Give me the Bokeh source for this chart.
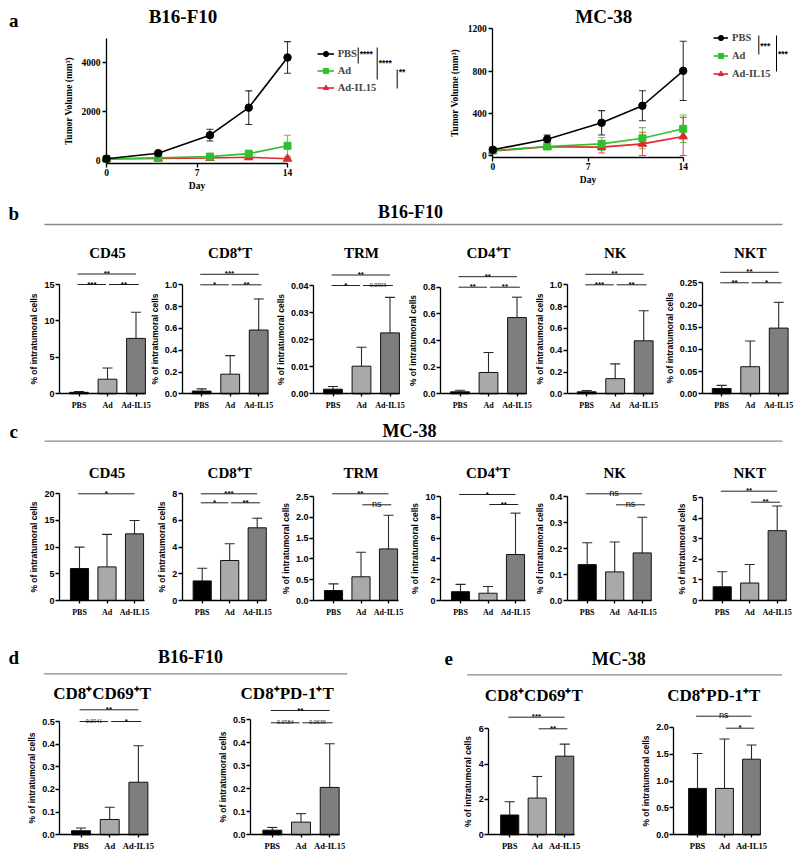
import numpy as np
from bokeh.plotting import figure
from bokeh.layouts import column, row
from bokeh.models import (Range1d, FixedTicker, Whisker, TeeHead, ColumnDataSource,
                          Legend, LegendItem, PrintfTickFormatter)
from bokeh.core.properties import value
from bokeh.embed import file_html
from bokeh.resources import INLINE

SERIF = "Liberation Serif"
SANS = "Liberation Sans"

# ---------------- data ----------------
groups = ["PBS", "Ad", "Ad-IL15"]
bar_colors = ["#000000", "#a9a9a9", "#7e7e7e"]
line_colors = ["#000000", "#2fbf2f", "#e3262b"]

days = [0, 4, 8, 11, 14]
b16_pbs_mean = [50, 280, 1020, 2150, 4210]
b16_pbs_sd = [20, 40, 240, 690, 650]
b16_ad_mean = [45, 90, 140, 260, 585]
b16_ad_sd = [10, 20, 40, 80, 430]
b16_il15_mean = [40, 60, 80, 110, 50]
b16_il15_sd = [10, 15, 25, 40, 30]
b16_sig = [("PBS", "Ad", "****"), ("PBS", "Ad-IL15", "****"), ("Ad", "Ad-IL15", "**")]

mc_pbs_mean = [57, 157, 312, 473, 803]
mc_pbs_sd = [10, 38, 115, 142, 280]
mc_ad_mean = [50, 88, 113, 166, 255]
mc_ad_sd = [8, 20, 60, 100, 130]
mc_il15_mean = [45, 85, 82, 113, 183]
mc_il15_sd = [8, 20, 55, 110, 180]
mc_sig = [("PBS", "Ad", "***"), ("PBS", "Ad-IL15", "***")]

# panel b : B16-F10 infiltration (% of intratumoral cells)
b_titles = ["CD45", "CD8⁺T", "TRM", "CD4⁺T", "NK", "NKT"]
b_means = [[0.2, 2.0, 7.6], [0.025, 0.18, 0.585], [0.0017, 0.0102, 0.0225],
           [0.015, 0.16, 0.572], [0.018, 0.139, 0.486], [0.012, 0.061, 0.148]]
b_sds = [[0.1, 1.55, 3.6], [0.02, 0.17, 0.285], [0.001, 0.007, 0.0131],
         [0.012, 0.15, 0.153], [0.012, 0.136, 0.276], [0.007, 0.058, 0.058]]
b_sigs = [[("PBS", "Ad", "***"), ("Ad", "Ad-IL15", "**"), ("PBS", "Ad-IL15", "**")],
          [("PBS", "Ad", "*"), ("Ad", "Ad-IL15", "**"), ("PBS", "Ad-IL15", "***")],
          [("PBS", "Ad", "*"), ("Ad", "Ad-IL15", "0.0593"), ("PBS", "Ad-IL15", "**")],
          [("PBS", "Ad", "**"), ("Ad", "Ad-IL15", "**"), ("PBS", "Ad-IL15", "**")],
          [("PBS", "Ad", "***"), ("Ad", "Ad-IL15", "**"), ("PBS", "Ad-IL15", "**")],
          [("PBS", "Ad", "**"), ("Ad", "Ad-IL15", "*"), ("PBS", "Ad-IL15", "**")]]
b_axis_max = [15, 1.0, 0.04, 0.8, 1.0, 0.25]
b_axis_step = [5, 0.2, 0.01, 0.2, 0.2, 0.05]

# panel c : MC-38 infiltration
c_titles = ["CD45", "CD8⁺T", "TRM", "CD4⁺T", "NK", "NKT"]
c_means = [[6.0, 6.3, 12.5], [1.47, 3.0, 5.45], [0.24, 0.57, 1.24],
           [0.85, 0.7, 4.42], [0.138, 0.11, 0.183], [0.67, 0.85, 3.4]]
c_sds = [[4.0, 6.1, 2.5], [0.95, 1.25, 0.72], [0.16, 0.59, 0.81],
         [0.7, 0.65, 3.98], [0.084, 0.115, 0.137], [0.73, 0.9, 1.2]]
c_sigs = [[("PBS", "Ad-IL15", "*")],
          [("PBS", "Ad-IL15", "***"), ("PBS", "Ad", "*"), ("Ad", "Ad-IL15", "**")],
          [("PBS", "Ad-IL15", "**"), ("Ad", "Ad-IL15", "ns")],
          [("PBS", "Ad-IL15", "*"), ("Ad", "Ad-IL15", "**")],
          [("PBS", "Ad-IL15", "ns"), ("Ad", "Ad-IL15", "ns")],
          [("PBS", "Ad-IL15", "**"), ("Ad", "Ad-IL15", "**")]]
c_axis_max = [20, 8, 2.5, 10, 0.4, 5]
c_axis_step = [5, 2, 0.5, 2, 0.1, 1]

# panels d / e : CD8 subsets
de_titles = ["CD8⁺CD69⁺T", "CD8⁺PD-1⁺T", "CD8⁺CD69⁺T", "CD8⁺PD-1⁺T"]
de_means = [[0.018, 0.0675, 0.232], [0.02, 0.055, 0.206],
            [1.12, 2.08, 4.45], [0.862, 0.862, 1.405]]
de_sds = [[0.012, 0.054, 0.161], [0.012, 0.037, 0.19],
          [0.75, 1.22, 0.68], [0.648, 0.918, 0.265]]
de_sigs = [[("PBS", "Ad-IL15", "**"), ("PBS", "Ad", "0.0541"), ("Ad", "Ad-IL15", "*")],
           [("PBS", "Ad-IL15", "**"), ("PBS", "Ad", "0.0584"), ("Ad", "Ad-IL15", "0.0639")],
           [("PBS", "Ad-IL15", "***"), ("Ad", "Ad-IL15", "**")],
           [("PBS", "Ad-IL15", "ns"), ("Ad", "Ad-IL15", "*")]]
de_axis_max = [0.5, 0.5, 6, 2.0]
de_axis_step = [0.1, 0.1, 2, 0.5]

YLABEL = "% of intratumoral cells"


# ---------------- helpers ----------------
def base_fig(w, h, xr, yr):
    p = figure(width=w, height=h, x_range=xr, y_range=yr, output_backend="svg",
               toolbar_location=None, min_border=0, min_border_left=0, min_border_right=0,
               min_border_top=0, min_border_bottom=0)
    p.outline_line_color = None
    p.grid.visible = False
    return p


def style_axis(ax, font, size, tick_out=4, standoff=2):
    ax.axis_line_color = "black"
    ax.axis_line_width = 1.3
    ax.major_tick_line_color = "black"
    ax.major_tick_line_width = 1.3
    ax.major_tick_in = 0
    ax.major_tick_out = tick_out
    ax.minor_tick_line_color = None
    ax.major_label_text_font = font
    ax.major_label_text_font_style = "bold"
    ax.major_label_text_font_size = size
    ax.major_label_text_color = "black"
    ax.major_label_standoff = standoff


def style_axis_label(ax, text, font, size, standoff):
    ax.axis_label = text
    ax.axis_label_text_font = font
    ax.axis_label_text_font_style = "bold"
    ax.axis_label_text_font_size = size
    ax.axis_label_text_color = "black"
    ax.axis_label_standoff = standoff


def put_text(p, x, y, t, font, size, style="bold", align="center", baseline="middle"):
    p.text(x=[x], y=[y], text=[t], text_font=value(font), text_font_style=style,
           text_font_size=size, text_align=align, text_baseline=baseline, text_color="black")


def is_stars(t):
    return set(t) == {"*"}


def bar_chart(fx, fw, fy, fh, axis_px, zero_px, top_px, top_val, step, fmt, unit, off,
              means, sds, title, title_x, title_y, title_size, sigs, sig_px, xlab_standoff, xlab_size):
    ppv = (zero_px - top_px) / top_val
    bar1 = axis_px + off
    X = lambda px: 1 + (px - bar1) / unit
    Y = lambda py: (zero_px - py) / ppv
    p = base_fig(fw, fh, Range1d(X(fx), X(fx + fw)), Range1d(Y(fy + fh), Y(fy)))

    src = ColumnDataSource(dict(x=[1, 2, 3], top=means,
                                up=[m + s for m, s in zip(means, sds)],
                                color=bar_colors, name=groups))
    p.vbar(x="x", top="top", bottom=0, width=0.66, fill_color="color",
           line_color="#111111", line_width=1, source=src)
    p.add_layout(Whisker(base="x", upper="up", lower="top", source=src,
                         line_color="#2a2a2a", line_width=1.1,
                         upper_head=TeeHead(size=10, line_color="#2a2a2a", line_width=1.1),
                         lower_head=None))

    put_text(p, X(title_x), Y(title_y), title, SERIF, title_size)

    for (g1, g2, lab), opx in zip(sigs, sig_px):
        i = groups.index(g1) + 1
        j = groups.index(g2) + 1
        if i == 2:
            x0, x1 = 2.05, 3.1
        elif j == 2:
            x0, x1 = 0.95, 1.95
        else:
            x0, x1 = 0.95, 3.0
        ly = Y(top_px - opx)
        p.segment(x0=[x0], y0=[ly], x1=[x1], y1=[ly], line_color="#222222", line_width=1)
        xm = (x0 + x1) / 2
        if is_stars(lab):
            put_text(p, xm, ly + 0.5 / ppv, lab, SANS, "8px")
        elif lab == "ns":
            put_text(p, xm, ly + 1 / ppv, lab, SANS, "9px", style="normal", baseline="alphabetic")
        else:
            put_text(p, xm, ly + 1 / ppv, lab, SERIF, "6px", style="normal", baseline="alphabetic")

    ticks = [round(v, 6) for v in np.arange(0, top_val + step / 2, step)]
    yax = p.yaxis[0]
    style_axis(yax, SANS, "9px", tick_out=4, standoff=1)
    yax.fixed_location = X(axis_px)
    yax.bounds = (0, top_val)
    yax.ticker = FixedTicker(ticks=ticks)
    yax.formatter = PrintfTickFormatter(format=fmt)
    style_axis_label(yax, YLABEL, SANS, "8.5px", 2)

    xax = p.xaxis[0]
    style_axis(xax, SERIF, xlab_size, tick_out=3, standoff=xlab_standoff)
    xax.fixed_location = 0
    xax.bounds = (X(axis_px), 3.35)
    xax.ticker = FixedTicker(ticks=[1, 2, 3])
    xax.major_label_overrides = {1: groups[0], 2: groups[1], 3: groups[2]}
    return p


def header_fig(y0, y1, texts, lines):
    h = int(round(y1 - y0))
    p = base_fig(800, h, Range1d(0, 800), Range1d(y1, y0))
    p.xaxis.visible = False
    p.yaxis.visible = False
    for (x, y, t, size) in texts:
        put_text(p, x, y, t, SERIF, size)
    for (xa, xb, y) in lines:
        p.segment(x0=[xa], y0=[y], x1=[xb], y1=[y], line_color="#8a8a8a", line_width=1.3)
    return p


def growth_chart(fx, fw, fh, axis_px, zero_px, xaxis_px, ppd, ppv, ymax, yticks, means, sds,
                 title, title_x, legend_xy, legend_gw, legend_step, brackets, sig, letter):
    X = lambda px: (px - axis_px) / ppd
    Y = lambda py: (zero_px - py) / ppv
    p = base_fig(fw, fh, Range1d(X(fx), X(fx + fw)), Range1d(Y(fh), Y(0)))

    markers = ["circle", "square", "triangle"]
    msizes = [7.5, 7, 8.5]
    items = []
    for k in range(3):
        c = line_colors[k]
        src = ColumnDataSource(dict(x=days, y=means[k],
                                    lo=[m - s for m, s in zip(means[k], sds[k])],
                                    hi=[m + s for m, s in zip(means[k], sds[k])]))
        p.add_layout(Whisker(base="x", upper="hi", lower="lo", source=src, line_color=c,
                             line_width=1.1, line_alpha=0.8,
                             upper_head=TeeHead(size=7, line_color=c, line_width=1.1, line_alpha=0.8),
                             lower_head=TeeHead(size=7, line_color=c, line_width=1.1, line_alpha=0.8)))
        ln = p.line("x", "y", source=src, line_color=c, line_width=1.6)
        sc = p.scatter("x", "y", source=src, marker=markers[k], size=msizes[k],
                       fill_color=c, line_color=c)
        items.append(LegendItem(label=groups[k], renderers=[ln, sc]))
    p.renderers = p.renderers[::-1]

    lx, ltop = legend_xy
    lh = 13
    sp = legend_step - lh
    lbot = ltop + 3 * lh + 2 * sp
    leg = Legend(items=items, location=(lx - fx, fh - lbot), padding=0, margin=0,
                 glyph_width=legend_gw, glyph_height=lh, label_height=lh, spacing=sp,
                 label_standoff=4, border_line_color=None, background_fill_alpha=0,
                 label_text_font=SERIF, label_text_font_style="bold",
                 label_text_font_size="10.5px")
    p.add_layout(leg)

    for (bx, by0, by1, ty), (g1, g2, lab) in zip(brackets, sig):
        p.segment(x0=[X(bx)], y0=[Y(by0)], x1=[X(bx)], y1=[Y(by1)], line_color="black", line_width=1)
        put_text(p, X(bx + 1.5), Y(ty), lab, SANS, "8.5px", align="left")

    put_text(p, X(title_x), Y(16), title, SERIF, "19px")
    if letter:
        put_text(p, X(13.3), Y(20), letter, SERIF, "19px")

    yax = p.yaxis[0]
    style_axis(yax, SERIF, "9.5px", tick_out=4, standoff=2)
    yax.fixed_location = 0
    yax.bounds = (Y(xaxis_px), ymax)
    yax.ticker = FixedTicker(ticks=yticks)
    style_axis_label(yax, "Tumor Volume (mm³)", SERIF, "9.5px", 5)

    xax = p.xaxis[0]
    style_axis(xax, SERIF, "9.5px", tick_out=4, standoff=1)
    xax.fixed_location = Y(xaxis_px)
    xax.bounds = (0, 14)
    xax.ticker = FixedTicker(ticks=[0, 7, 14])
    style_axis_label(xax, "Day", SERIF, "9.5px", 2)
    return p


# ---------------- panel a ----------------
a1 = growth_chart(0, 420, 195, 106, 159.5, 163, 12.93, 48.7 / 2000, 5000, [0, 2000, 4000],
                  [b16_pbs_mean, b16_ad_mean, b16_il15_mean],
                  [b16_pbs_sd, b16_ad_sd, b16_il15_sd],
                  "B16-F10", 182.5, (316.7, 46.8), 17, 17,
                  [(357.7, 47, 63, 53.3), (376.7, 47, 79, 62.3), (396.7, 69, 88, 71)],
                  b16_sig, "a")
a2 = growth_chart(420, 380, 195, 492.3, 155.3, 157, 13.6, 42.33 / 400, 1200, [0, 400, 800, 1200],
                  [mc_pbs_mean, mc_ad_mean, mc_il15_mean],
                  [mc_pbs_sd, mc_ad_sd, mc_il15_sd],
                  "MC-38", 603.3, (713, 30.8), 15, 18,
                  [(758.3, 35, 54, 45), (776, 35, 71, 53.3)],
                  mc_sig, None)

# ---------------- headers ----------------
hdr_b = header_fig(195, 235, [(13.3, 213, "b", "19px"), (410, 211, "B16-F10", "18px")],
                   [(44, 782, 224)])
hdr_c = header_fig(415, 448, [(13.3, 431, "c", "19px"), (409, 430, "MC-38", "18px")],
                   [(44, 782, 440.7)])
hdr_de = header_fig(630, 676, [(13.3, 656.7, "d", "19px"), (190, 656, "B16-F10", "18px"),
                               (448.3, 658, "e", "19px"), (618.3, 658, "MC-38", "18px")],
                    [(43.3, 346.7, 673.3), (466.7, 781.7, 674.3)])

# ---------------- panel b / c ----------------
bx = [0, 151, 275, 408, 535, 662]
bw = [151, 124, 133, 127, 127, 138]
baxis = [59, 181.7, 313, 440, 566.7, 701.7]

fmt_b = ["%d", "%.1f", "%.2f", "%.1f", "%.1f", "%.2f"]
btop = [284, 284.3, 285, 286.7, 284.3, 282.3]
b_charts = []
for k in range(6):
    b_charts.append(bar_chart(bx[k], bw[k], 235, 180, baxis[k], 393.3, btop[k], b_axis_max[k],
                              b_axis_step[k], fmt_b[k], 28.5, 19.5, b_means[k], b_sds[k], b_titles[k],
                              baxis[k] + 19.5 + 28.5, 252, "15px", b_sigs[k], [0, 0, 10.5], 4, "8px"))

fmt_c = ["%d", "%d", "%.1f", "%d", "%.1f", "%d"]
ctop = [493.3, 493.3, 496, 496, 496, 497.3]
c_offsets = [[0], [0, -9, -9], [2.7, -8.3], [2, -8], [2.7, -8.3], [6.6, -4.4]]
c_charts = []
for k in range(6):
    c_charts.append(bar_chart(bx[k], bw[k], 448, 182, baxis[k], 600, ctop[k], c_axis_max[k],
                              c_axis_step[k], fmt_c[k], 27.5, 20, c_means[k], c_sds[k], c_titles[k],
                              baxis[k] + 20 + 27.5, 472, "15px", c_sigs[k], c_offsets[k], 4, "8px"))

# ---------------- panels d / e ----------------
fmt_de = ["%.1f", "%.1f", "%d", "%.1f"]
dex = [0, 190, 410, 615]
dew = [190, 220, 205, 185]
deaxis = [59.3, 250, 488.3, 673.3]
detop = [721, 719.3, 728.3, 726.7]
deunit = [28.7, 28.7, 27.5, 27]
deoff = [21.2, 21.8, 20.9, 23.7]
detx = [101.7, 286.7, 533.3, 713.3]
dety = [693.3, 693.3, 695, 695]
de_offsets = [[11.7, 0, 0], [9.3, -3, -3], [11.6, 0], [11, -1]]
de_charts = []
for k in range(4):
    de_charts.append(bar_chart(dex[k], dew[k], 676, 175, deaxis[k], 834.3, detop[k], de_axis_max[k],
                               de_axis_step[k], fmt_de[k], deunit[k], deoff[k], de_means[k], de_sds[k],
                               de_titles[k], detx[k], dety[k], "17px", de_sigs[k], de_offsets[k], 3, "8.5px"))

layout = column(row(a1, a2), hdr_b, row(*b_charts), hdr_c, row(*c_charts),
                hdr_de, row(*de_charts))

open("out.html", "w").write(file_html(layout, INLINE))
